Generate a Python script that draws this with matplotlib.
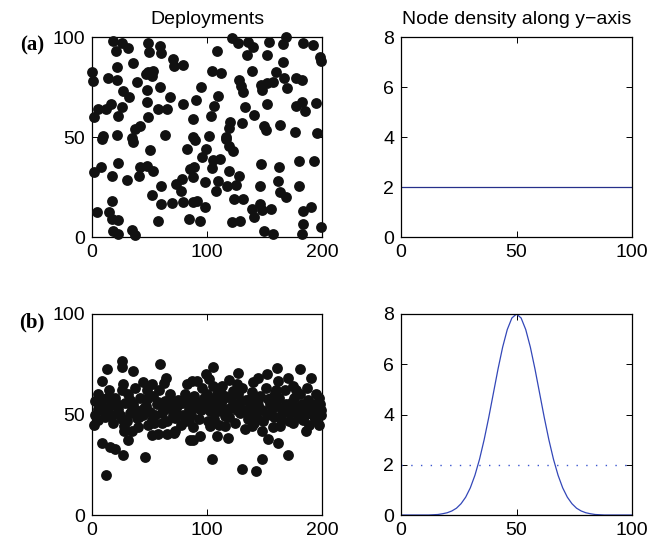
import numpy as np
import matplotlib
matplotlib.use("Agg")
import matplotlib.pyplot as plt

plt.rcParams['font.family'] = ['Liberation Sans', 'DejaVu Sans']

# ---------------- data ----------------
# (a) uniform deployment: (x, y)
dep_a = [
    (18.6,98),(25.8,97),(31,94.5),(20.6,93),(48.9,97),(59.2,95.3),(49.5,92.3),(60,91.8),(70.7,89),(79.4,86.2),
    (71.5,85.7),(36,86.8),(21.5,84.8),(0,82.7),(1.2,78.2),(13.7,79.5),(21.5,78.7),(48.9,82.3),(53.3,83.2),(51.9,80.7),
    (47.2,81.5),(38.8,77.3),(59.2,74.8),(47.6,73.7),(26.6,73.2),(32.4,69.8),(67.8,69.8),(47.6,67.3),(79.4,66.5),(25.8,64.8),
    (16.5,66.5),(11.9,64),(5.5,64),(57.1,64),(64.9,64),(22.9,60.7),(2,59.8),(48.9,59.8),(88.1,59),(41.8,55.7),
    (37.3,54),(63.5,51),(9.8,50.3),(21.5,51),(34.5,49.3),(88.1,49.8),
    (121.4,99.3),(127.2,97),(135.9,97.7),(139.6,94.8),(134.5,91),(154.2,97.7),(168.7,99.8),(165.9,96.5),(183.7,97),(108.4,92.8),
    (152.5,91.2),(166.4,87.3),(104.1,83.2),(111.9,82),(138.8,82.8),(160,82.7),(167,79.5),(177.4,79.3),(182.3,78.7),(128.1,78.5),
    (129.2,75.7),(131,72.7),(146.7,76),(151.9,77),(157.7,77.3),(147.6,73.7),(169.3,74.3),(94.4,74.8),(90.4,68.7),(109.9,70.3),
    (106.1,65.7),(133,65.2),(151.9,66.5),(177.4,65.7),(182.3,67.3),(185.2,63.2),(103.2,60.7),(141.1,61.2),(120,57.3),(119.4,54.3),
    (130.2,56.8),(149.6,55.7),(151.3,53.7),(163.5,56.2),(176.6,52.3),(102,50.3),(116.5,49.8),
    (8.5,49),(36,47.3),(50.4,43.7),(82.3,44),(22.9,36.8),(7.9,34.8),(2,32.3),(17.7,30.3),(30.2,28.7),(41.8,34.8),
    (47.6,35.3),(53.3,32.8),(40.9,30.3),(85.2,34),(78,29),(72.8,26.5),(60,25.3),(77.1,22.8),(51.9,21),(60,16.5),
    (69.3,16.8),(78.8,17.3),(88.1,17.3),(17.7,18.2),(4.1,12.3),(14.7,12.3),(17.1,9),(22.9,8.5),(57.7,7.8),(84.3,9),
    (18.6,3.2),(22.3,1.5),(34.5,3.5),(37.3,1.2),
    (89.6,48.5),(116.5,49),(119.4,45.7),(122.3,42.8),(99.1,44),(95.4,40.2),(104.9,38.5),(111.3,39),(88.7,34.8),(104.1,34.5),
    (119.4,32.8),(128.1,30.7),(88.1,29.8),(98.3,27.3),(109.9,28.2),(117.1,25.7),(125.2,26.2),(107.8,22.8),(91.6,18.2),(98.3,15.2),
    (123.5,19),(131.6,19),(138.8,14),(146.1,16.5),(147.6,13.5),(155.4,14),(140.9,9.8),(121.4,7.3),(128.7,7.8),(93.9,8.2),
    (146.7,36.5),(162.9,35.2),(146.1,25.7),(162.1,28.2),(163.5,22.3),(168.7,19.8),(180.3,38.2),(180.3,25.7),(183.3,13.2),(183.3,6.5),
    (182.3,1.5),(149.6,2.8),(157.1,1.5),
    (190.2,14.9),(198.9,5.2),(192,96),(198,90),(199,88),(195,67),(196,52),(193,38),
]

# (b) deployment concentrated around y = 50
dep_b = [
    (12.8,72.8),(26.3,76.7),(25.8,73.8),(35.9,71.7),(59.1,75),(9,66.7),(25.8,62),(37.4,63.3),(47.6,62.2),(51.9,65),
    (62.9,65.5),(82.3,65),(87.2,66.7),(2.6,56.7),(9.8,57.5),(5.5,52.5),(17.1,55),(22.9,52.5),(28.7,55.8),(33,50.8),
    (38.9,48.3),(44.6,50),(47.6,57.5),(56.3,55),(63.5,56.7),(69.8,55.8),(78,55.5),(84.3,52.5),(72.2,48.3),(80.9,46.7),
    (51.9,47.5),(60.6,50.8),(5.5,47.5),(28.1,44.2),(28.1,41.7),(51.9,40),(57.1,40.5),(65,40.5),(71.6,40.8),(8.4,35.8),
    (31,37.2),(85.2,37.5),(34.5,52.5),
    (105,73.8),(127.2,70.5),(144.6,68.3),(152.4,70.3),(161.1,73.3),(162,66.7),(180.9,72.5),(91,66.7),(102,67.8),(105.5,64.2),
    (125.8,65),(130.2,63.3),(122.9,61.7),(174.5,64.2),(177.4,62.2),(111.3,61.7),(99.7,60),(102.6,57.5),(114.2,57.5),(86.7,55),
    (92.4,53.3),(102.6,51.7),(109.8,51.7),(120,53.3),(128.7,50.8),(137.4,54.2),(144.6,54.5),(153.3,57.5),(159.1,60.8),(156.3,52.5),
    (165,50.8),(172.2,50.8),(180.9,52.5),(183.7,47.5),(175,45.8),(163.5,44.2),(143.2,48.3),(138.9,44.2),(147.6,41.7),(115.7,49.2),
    (115.7,44.2),(108.4,39.2),(118.5,38.3),(102.6,44.2),(93.9,39.2),(153.3,37.8),(162,35.8),(88.1,37.5),
    (190,68),(195,60),(198,55),(192,50),(197,45),(188,57),(199,52),
    (12,20),(16,34),(20,33),(27,30),(46,29),(104,28),(130,23),(143,22),(148,28),(170,30),
    (3,50),(7,55),(11,49),(14,53),(18,46),(20,58),(24,50),(30,47),(31,60),(36,55),
    (40,44),(42,58),(45,53),(49,45),(53,59),(55,50),(58,62),(61,46),(66,53),(68,60),
    (73,51),(75,57),(77,45),(81,60),(84,47),(89,59),(93,48),(96,63),(98,54),(101,47),
    (107,56),(110,45),(113,64),(117,52),(121,58),(124,46),(127,60),(131,52),(134,57),(136,48),
    (139,61),(142,51),(146,59),(149,47),(151,63),(155,55),(158,49),(163,58),(166,52),(168,62),
    (171,47),(174,56),(178,53),(181,60),(185,50),(187,63),(189,45),(191,55),(194,48),(197,58),
    (199,50),(5,60),(15,62),(27,65),(44,66),(64,68),(88,44),(99,70),(119,67),(140,66),
    (157,44),(170,68),(186,42),(35,42),(72,42),(109,60),(133,43),(160,62),
    (2,45),(9,52),(13,58),(17,50),(22,55),(26,48),(33,57),(38,52),(41,49),(47,54),
    (50,51),(54,46),(57,56),(62,52),(65,47),(70,50),(74,54),(79,50),(83,56),(86,50),
    (91,56),(95,52),(97,58),(103,54),(106,48),(112,55),(116,59),(119,49),(123,55),(126,52),
    (129,56),(135,51),(138,58),(141,46),(144,57),(148,52),(152,50),(156,58),(161,54),(164,48),
    (169,55),(173,52),(176,58),(179,49),(183,55),(188,52),(193,52),(196,55),
]

# node density along y-axis
ypos = [0, 2, 4, 6, 8, 10, 12, 14, 16, 18, 20, 22, 24, 26, 28, 30, 32, 34, 36, 38, 40, 42, 44, 46, 48,
        50, 52, 54, 56, 58, 60, 62, 64, 66, 68, 70, 72, 74, 76, 78, 80, 82, 84, 86, 88, 90, 92, 94, 96, 98, 100]
density_b = [0, 0, 0, 0, 0, 0, 0, 0.01, 0.02, 0.05, 0.09, 0.16, 0.27, 0.45, 0.71, 1.08, 1.58, 2.22, 3.00,
             3.89, 4.85, 5.81, 6.68, 7.38, 7.84, 8.00, 7.84, 7.38, 6.68, 5.81, 4.85, 3.89, 3.00, 2.22, 1.58,
             1.08, 0.71, 0.45, 0.27, 0.16, 0.09, 0.05, 0.02, 0.01, 0, 0, 0, 0, 0, 0, 0]
uniform_x = [0, 100]
uniform_density = [2, 2]

titles = ["Deployments", "Node density along y\u2212axis"]
panel_labels = ["(a)", "(b)"]

# ---------------- figure ----------------
W, H = 648, 547
fig = plt.figure(figsize=(W / 100, H / 100), dpi=100)

def px_axes(l, t, r, b):
    return fig.add_axes([l / W, 1 - b / H, (r - l) / W, (b - t) / H])

def style(ax):
    ax.tick_params(direction='in', top=True, right=True, length=4, width=0.7,
                   labelsize=14, pad=5, colors='black')
    for s in ax.spines.values():
        s.set_linewidth(0.9)
        s.set_color('black')

dot_color = '#111111'
ms = 7.8

ax1 = px_axes(92, 37, 322, 237)
ax2 = px_axes(401, 37, 632, 237)
ax3 = px_axes(92, 314, 322, 515)
ax4 = px_axes(401, 314, 632, 515)

for ax, dep in ((ax1, dep_a), (ax3, dep_b)):
    arr = np.array(dep)
    ax.plot(arr[:, 0], arr[:, 1], 'o', color=dot_color, markersize=ms,
            markeredgewidth=0, clip_on=False, zorder=3)
    ax.set_xlim(0, 200)
    ax.set_ylim(0, 100)
    ax.set_xticks([0, 100, 200])
    ax.set_yticks([0, 50, 100])
    style(ax)

ax2.plot(uniform_x, uniform_density, '-', color='#26308a', lw=0.9)
ax4.plot(ypos, density_b, '-', color='#3347b8', lw=0.9)
ax4.plot(uniform_x, uniform_density, linestyle=(0, (1, 6)), color='#3a55d0', lw=1.0)
for ax in (ax2, ax4):
    ax.set_xlim(0, 100)
    ax.set_ylim(0, 8)
    ax.set_xticks([0, 50, 100])
    ax.set_yticks([0, 2, 4, 6, 8])
    style(ax)

ax1.set_title(titles[0], fontsize=14, pad=9)
ax2.set_title(titles[1], fontsize=14, pad=9)

fig.text(32 / W, 1 - 45 / H, panel_labels[0], family=['Liberation Serif'], fontweight='bold',
         fontsize=15, ha='center', va='center')
fig.text(32 / W, 1 - 322 / H, panel_labels[1], family=['Liberation Serif'], fontweight='bold',
         fontsize=15, ha='center', va='center')

fig.savefig('out.png', dpi=100)
